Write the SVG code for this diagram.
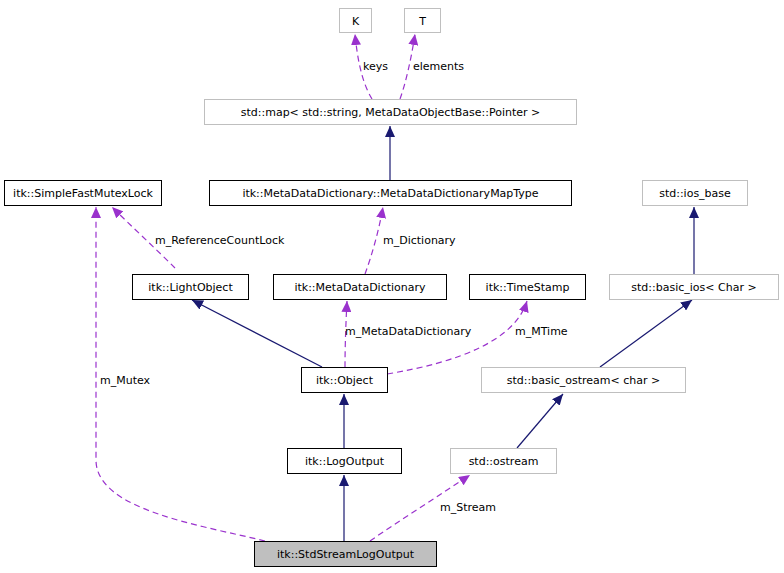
<svg xmlns="http://www.w3.org/2000/svg" width="784" height="573" viewBox="0 0 784 573">
<style>
text{font-family:"DejaVu Sans",sans-serif;font-size:11px;fill:#000}
.n text{text-anchor:middle}
.b{fill:#fff;stroke:#000;stroke-width:1}
.g{fill:#fff;stroke:#bfbfbf;stroke-width:1}
.s{fill:none;stroke:#191970;stroke-width:1.2}
.d{fill:none;stroke:#9a32cd;stroke-width:1.2;stroke-dasharray:6,4}
</style>
<defs>
<marker id="as" markerWidth="12" markerHeight="10" refX="11" refY="5" orient="auto" markerUnits="userSpaceOnUse"><path d="M0,0L11,5L0,10z" fill="#191970"/></marker>
<marker id="ad" markerWidth="12" markerHeight="10" refX="11" refY="5" orient="auto" markerUnits="userSpaceOnUse"><path d="M0,0L11,5L0,10z" fill="#9a32cd"/></marker>
</defs>
<rect width="784" height="573" fill="#fff"/>
<g id="edges">
<path class="d" d="M372,99C364,86 358,66 355,34" marker-end="url(#ad)"/>
<path class="d" d="M400,99C406,82 411,60 415,34" marker-end="url(#ad)"/>
<path class="s" d="M390,180L390,126" marker-end="url(#as)"/>
<path class="d" d="M365,274C372,255 379,230 383,207" marker-end="url(#ad)"/>
<path class="d" d="M175,268C155,248 130,225 112,207" marker-end="url(#ad)"/>
<path class="s" d="M322,367L192,300" marker-end="url(#as)"/>
<path class="d" d="M345,367C345,345 346,320 347,301" marker-end="url(#ad)"/>
<path class="d" d="M387,374C460,362 515,340 527,301" marker-end="url(#ad)"/>
<path class="s" d="M694,274L694,207" marker-end="url(#as)"/>
<path class="s" d="M600,367L692,300" marker-end="url(#as)"/>
<path class="s" d="M517,448L563,394" marker-end="url(#as)"/>
<path class="s" d="M344,448L344,394" marker-end="url(#as)"/>
<path class="s" d="M344,541L344,475" marker-end="url(#as)"/>
<path class="d" d="M265,541C200,525 96,510 96,460L96,207" marker-end="url(#ad)"/>
<path class="d" d="M370,541C400,520 440,495 470,475" marker-end="url(#ad)"/>
<text x="363" y="70">keys</text>
<text x="413" y="70">elements</text>
<text x="383" y="244">m_Dictionary</text>
<text x="155" y="244">m_ReferenceCountLock</text>
<text x="345" y="335">m_MetaDataDictionary</text>
<text x="515" y="335">m_MTime</text>
<text x="100" y="384">m_Mutex</text>
<text x="440" y="511">m_Stream</text>
</g>
<g class="n">
<g id="K"><rect class="g" x="339.5" y="8.5" width="32" height="24"/><text x="355.5" y="25">K</text></g>
<g id="T"><rect class="g" x="404.5" y="8.5" width="36" height="24"/><text x="422.5" y="25">T</text></g>
<g id="map"><rect class="g" x="204.5" y="99.5" width="372" height="25"/><text x="390.5" y="116">std::map&lt; std::string, MetaDataObjectBase::Pointer &gt;</text></g>
<g id="mutex"><rect class="b" x="4.5" y="180.5" width="157" height="25"/><text x="83" y="197">itk::SimpleFastMutexLock</text></g>
<g id="maptype"><rect class="b" x="209.5" y="180.5" width="362" height="25"/><text x="390.5" y="197">itk::MetaDataDictionary::MetaDataDictionaryMapType</text></g>
<g id="iosbase"><rect class="g" x="642.5" y="180.5" width="105" height="25"/><text x="695" y="197">std::ios_base</text></g>
<g id="light"><rect class="b" x="132.5" y="274.5" width="116" height="25"/><text x="190.5" y="291">itk::LightObject</text></g>
<g id="mdd"><rect class="b" x="273.5" y="274.5" width="173" height="25"/><text x="360" y="291">itk::MetaDataDictionary</text></g>
<g id="ts"><rect class="b" x="469.5" y="274.5" width="116" height="25"/><text x="527.5" y="291">itk::TimeStamp</text></g>
<g id="basicios"><rect class="g" x="609.5" y="274.5" width="169" height="25"/><text x="694" y="291">std::basic_ios&lt; Char &gt;</text></g>
<g id="object"><rect class="b" x="301.5" y="367.5" width="86" height="25"/><text x="344.5" y="384">itk::Object</text></g>
<g id="bostream"><rect class="g" x="481.5" y="367.5" width="204" height="25"/><text x="583.5" y="384">std::basic_ostream&lt; char &gt;</text></g>
<g id="logout"><rect class="b" x="287.5" y="448.5" width="114" height="25"/><text x="344.5" y="465">itk::LogOutput</text></g>
<g id="ostream"><rect class="g" x="450.5" y="448.5" width="106" height="25"/><text x="503.5" y="465">std::ostream</text></g>
<g id="std"><rect x="254.5" y="541.5" width="182" height="25" fill="#bfbfbf" stroke="#000"/><text x="345.5" y="558">itk::StdStreamLogOutput</text></g>
</g>
</svg>
